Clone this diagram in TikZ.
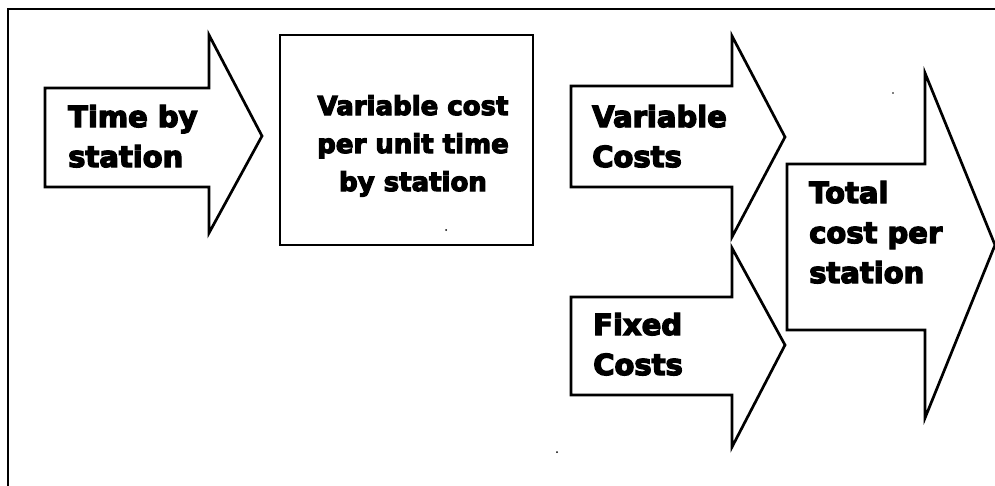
\documentclass[tikz,border=0pt]{standalone}
\usepackage{fontspec}
\newfontfamily\heavyfont{DejaVu Sans Bold}[FakeBold=4.5]
\begin{document}
\begin{tikzpicture}[x=1pt,y=-1pt,
  outline/.style={draw=black,line width=2.7pt,line join=miter,fill=white},
  bigtxt/.style={font=\heavyfont\fontsize{29}{40}\selectfont,align=left,inner sep=0pt,anchor=base west},
  boxtxt/.style={font=\heavyfont\fontsize{26}{38}\selectfont,align=center,inner sep=0pt,anchor=base},
  speck/.style={fill=black,draw=none}]
\useasboundingbox (0,0) rectangle (995,485);
\fill[white] (0,0) rectangle (995,485);

% outer frame: only the top and left edges fall inside the page
\draw[line width=2.5pt] (8,495) -- (8,9) -- (1005,9);

% input arrow
\draw[outline] (45,88) -- (209,88) -- (209,35) -- (262,136) -- (209,233)
  -- (209,187) -- (45,187) -- cycle;
% multi-line nodes sit on the baseline of their last line
\node[bigtxt] (time) at (68,167) {Time by\\station};

% cost rate box
\draw[outline] (280,35) rectangle (533,245);
\node[boxtxt] (rate) at (413,191) {Variable cost\\per unit time\\by station};

% variable and fixed cost arrows
\draw[outline] (571,86) -- (732,86) -- (732,36) -- (785,137) -- (732,237)
  -- (732,187) -- (571,187) -- cycle;
\node[bigtxt] (varc) at (592,167) {Variable\\Costs};

\draw[outline] (571,297) -- (732,297) -- (732,248) -- (785,345) -- (732,447)
  -- (732,395) -- (571,395) -- cycle;
\node[bigtxt] (fixc) at (593,375) {Fixed\\Costs};

% total cost arrow
\draw[outline] (787,164) -- (925,164) -- (925,73) -- (995,245) -- (925,418)
  -- (925,330) -- (787,330) -- cycle;
\node[bigtxt] (total) at (809,283) {Total\\cost per\\station};

% stray specks
\fill[speck] (446,230) circle (1);
\fill[speck] (557,452) circle (1);
\fill[speck] (893,93) circle (0.8);
\end{tikzpicture}
\end{document}
